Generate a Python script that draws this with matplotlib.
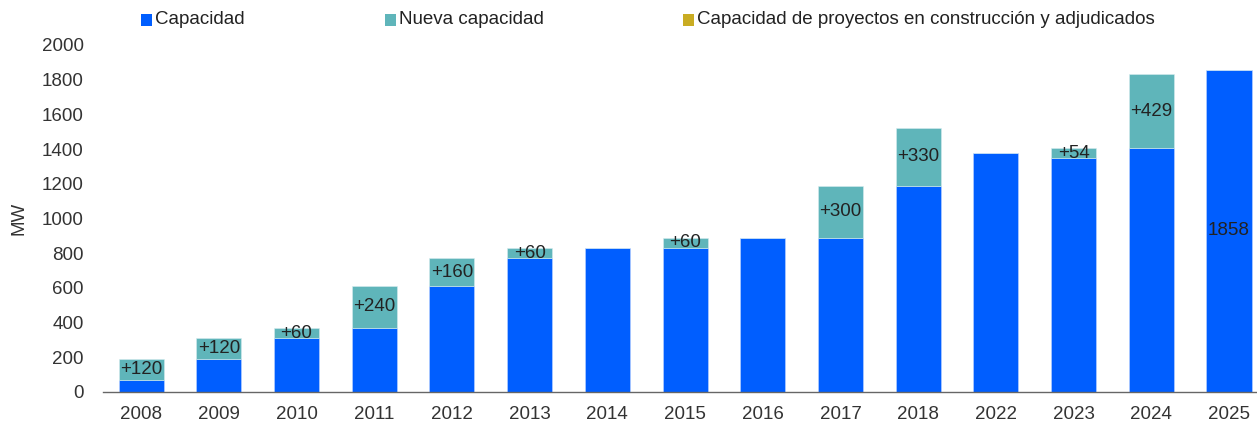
import matplotlib
matplotlib.use("Agg")
import matplotlib.pyplot as plt
from matplotlib.patches import Rectangle

years = ["2008", "2009", "2010", "2011", "2012", "2013", "2014", "2015",
         "2016", "2017", "2018", "2022", "2023", "2024", "2025"]
capacidad = [70, 190, 310, 370, 610, 770, 830, 830, 890, 890, 1190, 1380, 1350, 1404, 1858]
nueva = [120, 120, 60, 240, 160, 60, 0, 60, 0, 300, 330, 0, 54, 429, 0]
total_label = {"2025": "1858"}

C_BLUE = "#005EFF"
C_TEAL = "#5FB5BA"
C_GOLD = "#C9AC22"
TXT = "#222222"
FS = 13.5

plt.rcParams['font.family'] = ['Liberation Sans', 'DejaVu Sans']

fig = plt.figure(figsize=(12.57, 4.26), dpi=100)
ax = fig.add_axes([103/1257, 1 - 392/426, 1 - 103/1257, (392 - 45)/426])

x = list(range(len(years)))
w = 0.58
ax.bar(x, capacidad, width=w, color=C_BLUE, edgecolor="#BFD4FF", linewidth=0.4)
ax.bar(x, nueva, width=w, bottom=capacidad, color=C_TEAL, edgecolor="#D6ECEE", linewidth=0.4)

for i, (c, n) in enumerate(zip(capacidad, nueva)):
    if n > 0:
        ax.text(i, c + n / 2, f"+{n}", ha="center", va="center", fontsize=FS, color=TXT)
    if years[i] in total_label:
        ax.text(i, c / 2, total_label[years[i]], ha="center", va="center", fontsize=FS, color=TXT)

ax.set_xlim(-0.49, 14.36)
ax.set_ylim(0, 2000)
ax.set_yticks(range(0, 2001, 200))
ax.set_xticks(x)
ax.set_xticklabels(years)
ax.tick_params(axis="both", length=0, labelsize=FS, labelcolor="#333333")
ax.tick_params(axis="y", pad=14)
ax.tick_params(axis="x", pad=10)
for s in ["top", "right", "left"]:
    ax.spines[s].set_visible(False)
ax.spines["bottom"].set_color("#666666")
ax.spines["bottom"].set_linewidth(1.0)
ax.set_ylabel("MW", fontsize=FS, color="#333333", labelpad=10)

# legend
items = [("Capacidad", C_BLUE, 141), ("Nueva capacidad", C_TEAL, 385),
         ("Capacidad de proyectos en construcción y adjudicados", C_GOLD, 683)]
for label, col, px in items:
    fig.add_artist(Rectangle((px / 1257, 1 - 25.5 / 426), 11 / 1257, 11 / 426,
                             transform=fig.transFigure, color=col, lw=0))
    fig.text((px + 14) / 1257, 1 - 19.5 / 426, label, ha="left", va="center",
             fontsize=FS, color=TXT)

fig.savefig("out.png", dpi=100)
